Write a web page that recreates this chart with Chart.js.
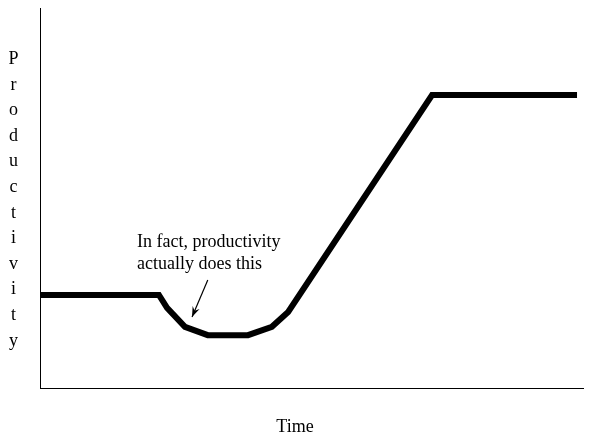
<!DOCTYPE html>
<html>
<head>
<meta charset="utf-8">
<script src="https://cdn.jsdelivr.net/npm/chart.js@4"></script>
<style>
  html, body { margin: 0; padding: 0; background: #fff; }
  #wrap { width: 589px; height: 439px; }
</style>
</head>
<body>
<div id="wrap"><canvas id="chart" width="589" height="439"></canvas></div>
<script>
// time (0-100) and productivity (0-100)
const timeValues = [0, 21.9, 23.4, 26.7, 30.9, 38.3, 42.7, 45.7, 72.2, 98.9];
const productivityValues = [24.5, 24.5, 21.1, 16.1, 13.9, 13.9, 16.1, 20.0, 77.1, 77.1];

const yLabel = "Productivity";
const xLabel = "Time";
const noteLines = ["In fact, productivity", "actually does this"];
// arrow from/to in data units
const arrowFrom = [30.9, 28.4];
const arrowTo = [28.0, 18.7];

const points = timeValues.map((t, i) => ({ x: t, y: productivityValues[i] }));
const serif = "'Liberation Serif', 'Times New Roman', serif";

// draws the stacked y label, x label and the note with its arrow
const labelsPlugin = {
  id: "labels",
  afterDraw(chart) {
    const ctx = chart.ctx;
    const xs = chart.scales.x;
    const ys = chart.scales.y;
    ctx.save();
    ctx.fillStyle = "#000";
    ctx.font = "18px " + serif;
    ctx.textAlign = "center";
    ctx.textBaseline = "alphabetic";

    yLabel.split("").forEach((ch, i) => {
      ctx.fillText(ch, 13.5, 64 + i * 25.6);
    });

    ctx.fillText(xLabel, 295, 432);

    ctx.textAlign = "left";
    ctx.fillText(noteLines[0], 137, 247);
    ctx.fillText(noteLines[1], 137, 269);

    // arrow
    const x1 = xs.getPixelForValue(arrowFrom[0]);
    const y1 = ys.getPixelForValue(arrowFrom[1]);
    const x2 = xs.getPixelForValue(arrowTo[0]);
    const y2 = ys.getPixelForValue(arrowTo[1]);
    ctx.strokeStyle = "#000";
    ctx.lineWidth = 1.2;
    ctx.beginPath();
    ctx.moveTo(x1, y1);
    ctx.lineTo(x2, y2);
    ctx.stroke();
    const ang = Math.atan2(y2 - y1, x2 - x1);
    const len = 11;
    const spread = 0.35;
    ctx.beginPath();
    ctx.moveTo(x2, y2);
    ctx.lineTo(x2 - len * Math.cos(ang - spread), y2 - len * Math.sin(ang - spread));
    ctx.lineTo(x2 - len * 0.6 * Math.cos(ang), y2 - len * 0.6 * Math.sin(ang));
    ctx.lineTo(x2 - len * Math.cos(ang + spread), y2 - len * Math.sin(ang + spread));
    ctx.closePath();
    ctx.fill();
    ctx.restore();
  }
};

new Chart(document.getElementById("chart"), {
  type: "line",
  data: {
    datasets: [
      {
        data: points,
        borderColor: "#000",
        borderWidth: 6,
        pointRadius: 0,
        tension: 0,
        fill: false,
      },
    ],
  },
  options: {
    responsive: false,
    animation: false,
    layout: { padding: { left: 40, top: 8, right: 6, bottom: 51 } },
    plugins: { legend: { display: false }, tooltip: { enabled: false } },
    scales: {
      x: {
        type: "linear",
        min: 0,
        max: 100,
        ticks: { display: false },
        grid: { display: false },
        border: { display: true, color: "#000", width: 1 },
        afterFit: (s) => { s.height = 0; },
      },
      y: {
        min: 0,
        max: 100,
        ticks: { display: false },
        grid: { display: false },
        border: { display: true, color: "#000", width: 1 },
        afterFit: (s) => { s.width = 0; },
      },
    },
  },
  plugins: [labelsPlugin],
});
</script>
</body>
</html>
